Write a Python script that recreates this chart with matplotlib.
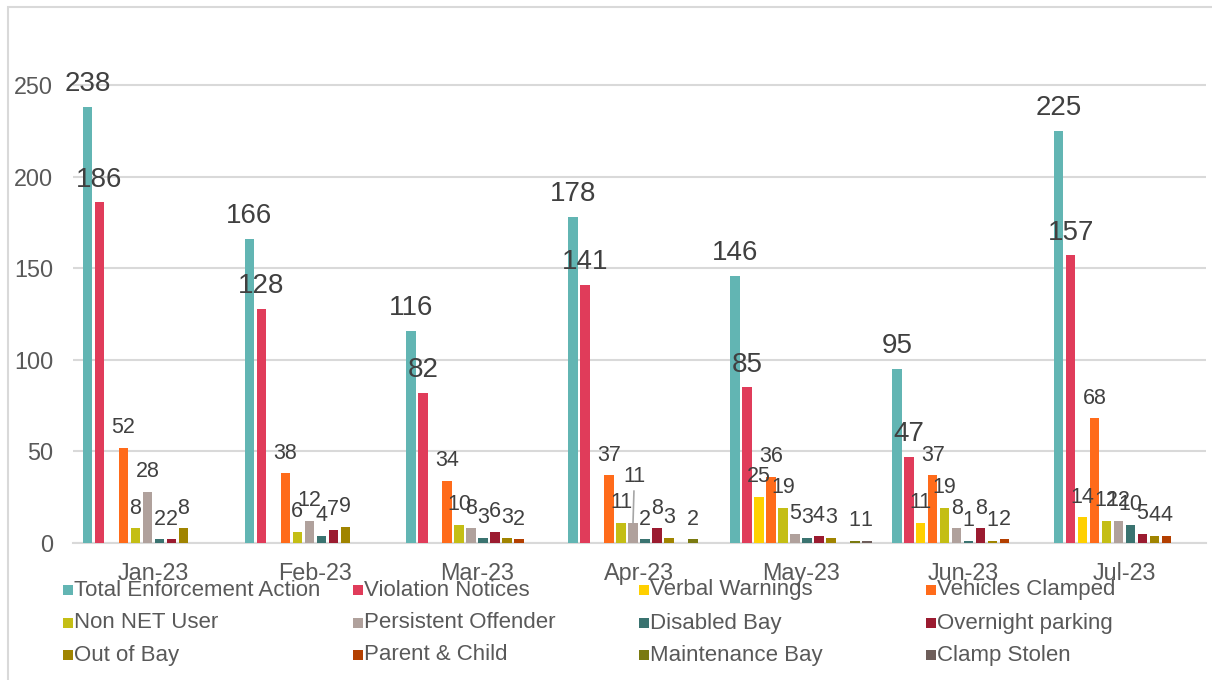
import numpy as np
import matplotlib.pyplot as plt
from matplotlib.patches import Rectangle

plt.rcParams['font.family'] = ['Liberation Sans', 'DejaVu Sans']

# 数据
months = ['Jan-23', 'Feb-23', 'Mar-23', 'Apr-23', 'May-23', 'Jun-23', 'Jul-23']

total = [238, 166, 116, 178, 146, 95, 225]
violation = [186, 128, 82, 141, 85, 47, 157]
verbal = [0, 0, 0, 0, 25, 11, 14]
clamped = [52, 38, 34, 37, 36, 37, 68]
non_net = [8, 6, 10, 11, 19, 19, 12]
persistent = [28, 12, 8, 11, 5, 8, 12]
disabled = [2, 4, 3, 2, 3, 1, 10]
overnight = [2, 7, 6, 8, 4, 8, 5]
out_of_bay = [8, 9, 3, 3, 3, 1, 4]
parent_child = [0, 0, 2, 0, 0, 2, 4]
maintenance = [0, 0, 0, 2, 1, 0, 0]
clamp_stolen = [0, 0, 0, 0, 1, 0, 0]

series_names = ['Total Enforcement Action', 'Violation Notices', 'Verbal Warnings', 'Vehicles Clamped',
                'Non NET User', 'Persistent Offender', 'Disabled Bay', 'Overnight parking',
                'Out of Bay', 'Parent & Child', 'Maintenance Bay', 'Clamp Stolen']
series_values = [total, violation, verbal, clamped, non_net, persistent, disabled, overnight,
                 out_of_bay, parent_child, maintenance, clamp_stolen]
colors = ['#62B5B3', '#E03C5A', '#FFD000', '#FF6B1A', '#C4BE15', '#B0A19C',
          '#3A7370', '#9B1B30', '#A08400', '#B33F00', '#7A7A10', '#6E5E5A']

fig = plt.figure(figsize=(12.12, 6.8), dpi=100)
ax = fig.add_axes([72.5 / 1212, 137 / 680, 1133 / 1212, 522 / 680])

x = np.arange(len(months))
n = len(series_names)
pitch = 12 / 162
bar_w = 9.5 / 162

label_color = '#404040'
for k, (name, vals, col) in enumerate(zip(series_names, series_values, colors)):
    xs = x + (k - (n - 1) / 2) * pitch
    ax.bar(xs, vals, width=bar_w, color=col, zorder=3)
    big = k < 2
    for i, (xi, v) in enumerate(zip(xs, vals)):
        if v == 0:
            continue
        # 四月 Persistent Offender 标签上移并带引线
        if name == 'Persistent Offender' and months[i] == 'Apr-23':
            ax.annotate(str(v), xy=(xi, v), xytext=(1, 26), textcoords='offset points',
                        ha='center', va='bottom', fontsize=15.5, color=label_color,
                        arrowprops=dict(arrowstyle='-', color='#A6A6A6', lw=1.2,
                                        shrinkA=1, shrinkB=0))
            continue
        ax.annotate(str(v), xy=(xi, v), xytext=(0, 7), textcoords='offset points',
                    ha='center', va='bottom', fontsize=20 if big else 15.5, color=label_color,
                    zorder=4)

# 坐标轴设置
ax.set_xlim(-0.5, len(months) - 0.5)
ax.set_ylim(0, 285)
ax.set_yticks([0, 50, 100, 150, 200, 250])
ax.set_xticks(x)
ax.set_xticklabels(months)
ax.tick_params(axis='both', length=0, labelsize=16.8, labelcolor='#595959')
ax.tick_params(axis='y', pad=14)
ax.tick_params(axis='x', pad=14)
ax.grid(axis='y', color='#D9D9D9', linewidth=1.5, zorder=0)
for side in ['top', 'right', 'left']:
    ax.spines[side].set_visible(False)
ax.spines['bottom'].set_color('#D9D9D9')
ax.spines['bottom'].set_linewidth(1.5)
ax.spines['bottom'].set_zorder(2)

# 图例（4列3行）
col_x = [63, 353, 639, 926]
row_y = [590, 623, 655]
for k, (name, col) in enumerate(zip(series_names, colors)):
    cx = col_x[k % 4]
    cy = row_y[k // 4]
    fig.add_artist(Rectangle((cx / 1212, (680 - cy - 5) / 680), 10 / 1212, 10 / 680,
                             transform=fig.transFigure, facecolor=col, edgecolor='none'))
    fig.text((cx + 11) / 1212, (680 - cy) / 680, name, ha='left', va='center',
             fontsize=16, color='#595959')

# 外框
fig.add_artist(Rectangle((8 / 1212, -10 / 680), 1.2, (673 + 10) / 680, transform=fig.transFigure,
                         facecolor='none', edgecolor='#D9D9D9', linewidth=1.5))

fig.savefig('out.png', dpi=100)
